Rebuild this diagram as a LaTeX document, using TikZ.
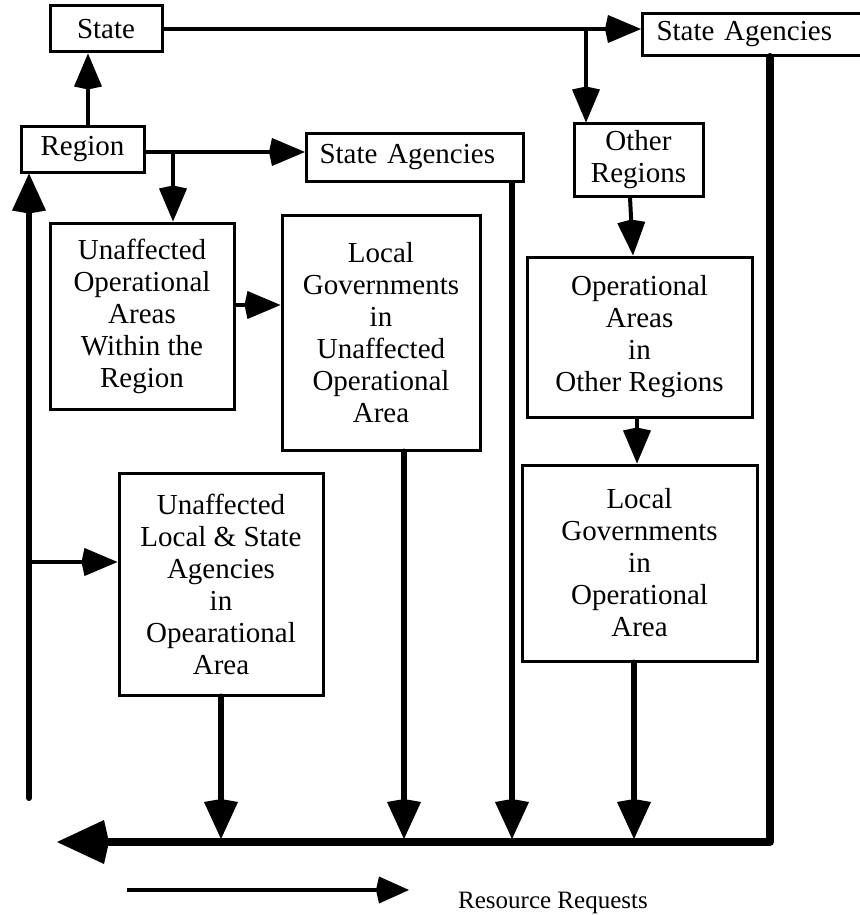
\documentclass[tikz,border=0pt]{standalone}
\usepackage{fontspec}
\setmainfont{Liberation Serif}
\usetikzlibrary{arrows.meta}
\begin{document}
\begin{tikzpicture}[x=1pt,y=-1pt,
  box/.style={draw, line width=3pt, inner sep=0pt, align=center, font=\fontsize{29}{32}\selectfont},
  thinarr/.style={line width=4pt, -{Kite[length=36pt,width=28pt,inset=3pt]}},
  thickarr/.style={line width=6pt, line cap=round, -{Kite[length=40pt,width=34pt,inset=3pt]}},
  busline/.style={line width=8pt, line cap=round, line join=round, -{Kite[length=52pt,width=44pt,inset=5pt]}},
  legarr/.style={line width=4pt, -{Kite[length=33pt,width=27pt,inset=3pt]}},
]
\useasboundingbox (0,0) rectangle (859,915);

\node[box, minimum width=112pt, minimum height=46pt] (state) at (106,29) {State};
\node[box, anchor=north west, minimum height=42pt, text width=193pt, align=left, inner xsep=14pt] (sa1) at (641,12) {State Agencies};
\node[box, minimum width=123pt, minimum height=45pt] (region) at (82.5,149.5) {Region};
\node[box, anchor=north west, minimum height=48pt, text width=191pt, align=left, inner xsep=13pt] (sa2) at (305,132) {State Agencies};
\node[box, minimum width=129pt, minimum height=72pt] (oreg) at (638.5,160) {Other\\Regions};
\node[box, minimum width=184pt, minimum height=186pt] (uoa) at (142,316) {Unaffected\\Operational\\Areas\\Within the\\Region};
\node[box, minimum width=198pt, minimum height=235pt] (lgu) at (381,332.5) {Local\\Governments\\in\\Unaffected\\Operational\\Area};
\node[box, minimum width=225pt, minimum height=160pt] (oaor) at (639.5,337) {Operational\\Areas\\in\\Other Regions};
\node[box, minimum width=235pt, minimum height=196pt] (lgo) at (639.5,563) {Local\\Governments\\in\\Operational\\Area};
\node[box, minimum width=204pt, minimum height=222pt] (ulsa) at (221,584) {Unaffected\\Local \& State\\Agencies\\in\\Opearational\\Area};

\coordinate (busR) at (770,842);
\coordinate (busL) at (57,842);
\coordinate (busTop) at (0,839);
\coordinate (lb) at (29,798);
\coordinate (lj) at (29,562);
\coordinate (rj) at (173,152);
\coordinate (sj) at (586,29);
\coordinate (legA) at (127,890);
\coordinate (legB) at (409,890);

% thin connectors
\draw[thinarr] (region.north -| 88,0) -- (state.south -| 88,0);
\draw[thinarr] (state.east) -- (state.east -| sa1.west);
\draw[thinarr] (sj) -- (oreg.north -| sj);
\draw[thinarr] (region.east |- rj) -- (sa2.west |- rj);
\draw[thinarr] (rj) -- (uoa.north -| rj);
\draw[thinarr] (uoa.east |- 0,305) -- (lgu.west |- 0,305);
\draw[thinarr] (oreg.south -| 630,0) -- (oaor.north -| 633,0);
\draw[thinarr] (oaor.south -| 637,0) -- (lgo.north -| 637,0);
\draw[thinarr] (lj) -- (ulsa.west |- lj);

% thick connectors
\draw[thickarr] (lb) -- (region.south -| lb);
\draw[thickarr] (sa2.south -| 512,0) -- (busTop -| 512,0);
\draw[thickarr] (lgu.south -| 404,0) -- (busTop -| 404,0);
\draw[thickarr] (ulsa.south -| 221,0) -- (busTop -| 221,0);
\draw[thickarr] (lgo.south -| 634,0) -- (busTop -| 634,0);
\draw[busline] (sa1.south -| busR) -- (busR) -- (busL);

% legend
\draw[legarr] (legA) -- (legB);
\node[font=\fontsize{25}{28}\selectfont, anchor=base west, inner sep=0pt] (legtxt) at (458,908) {Resource Requests};
\end{tikzpicture}
\end{document}
